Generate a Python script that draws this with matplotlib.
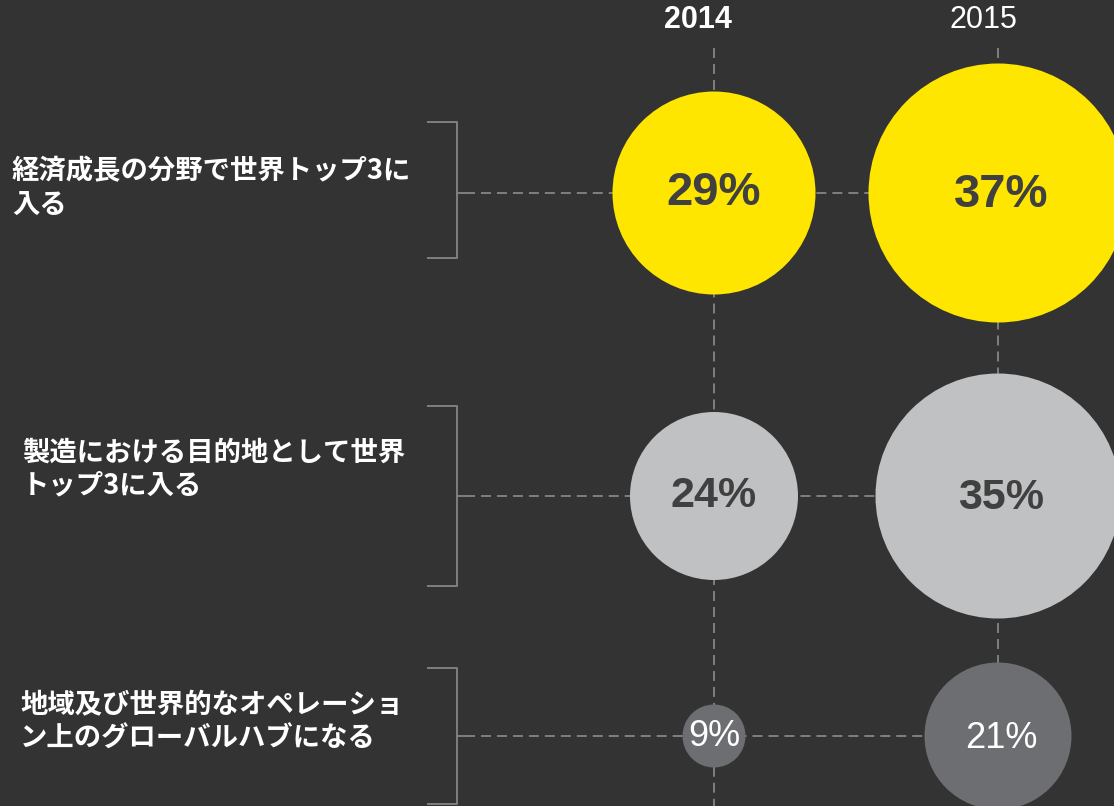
import matplotlib.pyplot as plt

plt.rcParams['font.family'] = ['Noto Sans CJK JP', 'DejaVu Sans']
plt.rcParams['lines.scale_dashes'] = False

# data
years = ['2014', '2015']
goals = ['経済成長の分野で世界トップ3に\n入る',
         '製造における目的地として世界\nトップ3に入る',
         '地域及び世界的なオペレーショ\nン上のグローバルハブになる']
share_2014 = [29, 24, 9]
share_2015 = [37, 35, 21]

# styles / layout (pixel coords)
bg = '#333333'
grid_col = '#808080'
row_colors = ['#FFE600', '#C0C1C3', '#6D6E71']
value_colors = ['#404040', '#404040', '#FFFFFF']
value_weights = ['bold', 'bold', 'normal']
value_sizes = [34, 31, 26]
col_x = [714, 998]
row_y = [193, 496, 736]
label_x = [12, 22, 20]
label_y = [188, 469, 722]
year_x = [698, 983]
bracket_half = [68, 90, 68]
px_per_pct = 3.5
dpi = 100

fig = plt.figure(figsize=(11.14, 8.06), dpi=dpi, facecolor=bg)
ax = fig.add_axes([0, 0, 1, 1])
ax.set_facecolor(bg)
ax.set_xlim(0, 1114)
ax.set_ylim(806, 0)
ax.axis('off')

dash = (7.2, 4.3)

# vertical dashed guides
for x in col_x:
    ax.plot([x, x], [48, 806], color=grid_col, lw=1.4, dashes=dash, zorder=1)

# brackets + horizontal dashed guides
for i, y in enumerate(row_y):
    h = bracket_half[i]
    top, bot = y - h, y + h
    if i == 0:
        top, bot = 122, 258
    ax.plot([428, 457, 457, 428], [top, top, bot, bot], color=grid_col, lw=1.4, zorder=1)
    ax.plot([457, 465], [y, y], color=grid_col, lw=1.4, zorder=1)
    ax.plot([465, col_x[1]], [y, y], color=grid_col, lw=1.4, dashes=dash, zorder=1)
    ax.text(label_x[i], label_y[i], goals[i], color='white', fontsize=19.7,
            fontweight='bold', ha='left', va='center', linespacing=1.22)

# bubbles
for j, vals in enumerate([share_2014, share_2015]):
    for i, v in enumerate(vals):
        d_pt = 2 * v * px_per_pct * 72 / dpi
        ax.scatter(col_x[j], row_y[i], s=d_pt ** 2, color=row_colors[i],
                   edgecolors='none', zorder=2)
        ax.text(col_x[j] + 3 * j, row_y[i] + 2 * j, f'{v}%', color=value_colors[i],
                fontsize=value_sizes[i], fontweight=value_weights[i],
                family='Liberation Sans', ha='center', va='center', zorder=3)

# year headers
ax.text(year_x[0], 20, years[0], color='white', fontsize=22, fontweight='bold',
        family='Liberation Sans', ha='center', va='center')
ax.text(year_x[1], 20, years[1], color='white', fontsize=22,
        family='Liberation Sans', ha='center', va='center')

fig.savefig('out.png', dpi=dpi, facecolor=bg)
